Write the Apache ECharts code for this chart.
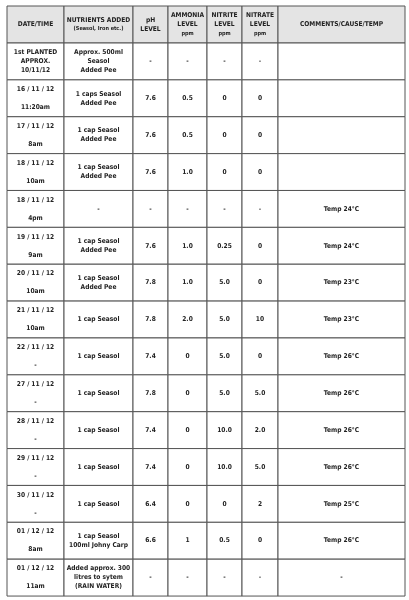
<!DOCTYPE html>
<html><head><meta charset="utf-8">
<script src="https://cdn.jsdelivr.net/npm/echarts@6/dist/echarts.min.js"></script>
<style>html,body{margin:0;padding:0;background:#fff}#c{width:409px;height:600px}</style>
</head><body><div id="c"></div>
<script>
var headers = ['DATE/TIME','NUTRIENTS ADDED\n{s|(Seasol, Iron etc.)}','pH\nLEVEL','AMMONIA\nLEVEL\n{s|ppm}','NITRITE\nLEVEL\n{s|ppm}','NITRATE\nLEVEL\n{s|ppm}','COMMENTS/CAUSE/TEMP'];
var dates = ['1st PLANTED\nAPPROX.\n10/11/12','16 / 11 / 12','17 / 11 / 12','18 / 11 / 12','18 / 11 / 12','19 / 11 / 12','20 / 11 / 12','21 / 11 / 12','22 / 11 / 12','27 / 11 / 12','28 / 11 / 12','29 / 11 / 12','30 / 11 / 12','01 / 12 / 12','01 / 12 / 12'];
var times = ['','11:20am','8am','10am','4pm','9am','10am','10am','-','-','-','-','-','8am','11am'];
var nutrients = ['Approx. 500ml\nSeasol\nAdded Pee','1 caps Seasol\nAdded Pee','1 cap Seasol\nAdded Pee','1 cap Seasol\nAdded Pee','-','1 cap Seasol\nAdded Pee','1 cap Seasol\nAdded Pee','1 cap Seasol','1 cap Seasol','1 cap Seasol','1 cap Seasol','1 cap Seasol','1 cap Seasol','1 cap Seasol\n100ml Johny Carp','Added approx. 300\nlitres to sytem\n(RAIN WATER)'];
var ph = ['-','7.6','7.6','7.6','-','7.6','7.8','7.8','7.4','7.8','7.4','7.4','6.4','6.6','-'];
var ammonia = ['-','0.5','0.5','1.0','-','1.0','1.0','2.0','0','0','0','0','0','1','-'];
var nitrite = ['-','0','0','0','-','0.25','5.0','5.0','5.0','5.0','10.0','10.0','0','0.5','-'];
var nitrate = ['-','0','0','0','-','0','0','10','0','5.0','2.0','5.0','2','0','-'];
var comments = ['','','','','Temp 24°C','Temp 24°C','Temp 23°C','Temp 23°C','Temp 26°C','Temp 26°C','Temp 26°C','Temp 26°C','Temp 25°C','Temp 26°C','-'];

var colX = [7,64,133,168,207,242,278,405];
var top0 = 6, headH = 37, rowH = 36.87;
var cells = [];
headers.forEach(function(h,i){cells.push([i,-1,h]);});
for (var r=0;r<dates.length;r++){
  var d = r===0 ? dates[r] : dates[r]+'\n\n'+times[r];
  [d,nutrients[r],ph[r],ammonia[r],nitrite[r],nitrate[r],comments[r]].forEach(function(t,c){cells.push([c,r,t]);});
}
function rowY(r){return r<0?top0:top0+headH+r*rowH;}
var chart = echarts.init(document.getElementById('c'));
chart.setOption({
  animation:false,
  grid:{left:0,right:0,top:0,bottom:0},
  xAxis:{type:'value',min:0,max:409,show:false},
  yAxis:{type:'value',min:0,max:600,inverse:true,show:false},
  series:[{type:'custom',data:cells,renderItem:function(params,api){
    var c=api.value(0), r=api.value(1), t=cells[params.dataIndex][2];
    var y0=rowY(r), y1=r<0?top0+headH:y0+rowH;
    var p0=api.coord([colX[c],y0]), p1=api.coord([colX[c+1],y1]);
    return {type:'group',children:[
      {type:'rect',shape:{x:p0[0],y:p0[1],width:p1[0]-p0[0],height:p1[1]-p0[1]},
       style:{fill:r<0?'#e4e4e4':'#fff',stroke:'#555',lineWidth:1}},
      {type:'text',style:{x:(p0[0]+p1[0])/2,y:(p0[1]+p1[1])/2,text:t,align:'center',verticalAlign:'middle',
        fill:'#222',font:'bold 6.6px "DejaVu Sans Condensed", "Liberation Sans Narrow", sans-serif',lineHeight:9,
        rich:{s:{fontSize:5.5,fontWeight:'bold',fontFamily:'DejaVu Sans Condensed',fill:'#222',lineHeight:9}}}}
    ]};
  }}]
});
</script></body></html>
